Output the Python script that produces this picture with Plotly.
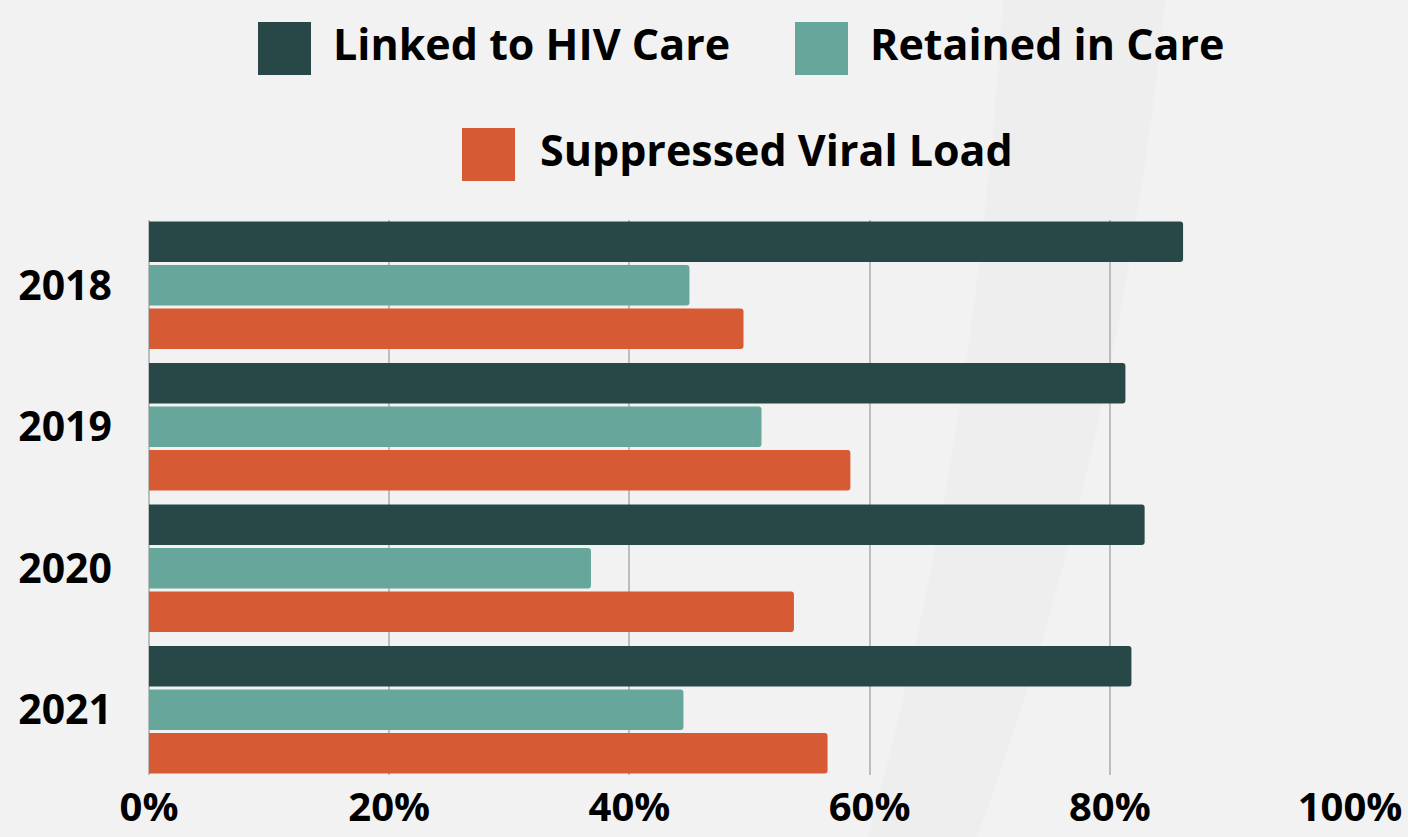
import plotly.graph_objects as go

years = ["2018", "2019", "2020", "2021"]
series_names = ["Linked to HIV Care", "Retained in Care", "Suppressed Viral Load"]
linked = [86.1, 81.3, 82.9, 81.8]
retained = [45.0, 51.0, 36.8, 44.5]
suppressed = [49.5, 58.4, 53.7, 56.5]
colors = ["#274846", "#67a69b", "#d65b35"]
x_ticks = [0, 20, 40, 60, 80, 100]
x_tick_labels = [f"{v}%" for v in x_ticks]

W, H = 1408, 837
L, R, T, B = 149, 58, 220, 62
PW, PH = W - L - R, H - T - B


def px(x):
    return (x - L) / PW


def py(y):
    return (H - B - y) / PH


FONT = "Open Sans"

fig = go.Figure()
for name, vals, col in zip(series_names, [linked, retained, suppressed], colors):
    fig.add_trace(go.Bar(
        y=years, x=vals, name=name, orientation="h",
        marker=dict(color=col, cornerradius=3, line=dict(width=0)),
        showlegend=False,
    ))

# background swoosh
band = (f"M {px(1003)},{py(0)} Q {px(975)},{py(450)} {px(868)},{py(837)} "
        f"L {px(977)},{py(837)} Q {px(1120)},{py(450)} {px(1165)},{py(0)} Z")
shapes = [dict(type="path", path=band, xref="paper", yref="paper",
               fillcolor="#ececec", opacity=0.8, line=dict(width=0), layer="below")]

annotations = []
legend_items = [
    (258, 22, 331, 44),
    (795, 22, 868, 44),
    (462, 128, 538, 150),
]
for (sx, sy, tx, ty), name, col in zip(legend_items, series_names, colors):
    shapes.append(dict(type="rect", xref="paper", yref="paper",
                       x0=px(sx), x1=px(sx + 53), y0=py(sy), y1=py(sy + 53),
                       fillcolor=col, line=dict(width=0), layer="above"))
    annotations.append(dict(text=name, xref="paper", yref="paper",
                            x=px(tx), y=py(ty), xanchor="left", yanchor="middle",
                            showarrow=False,
                            font=dict(family=FONT, size=43, color="#000", weight=700)))

fig.update_layout(
    width=W, height=H,
    margin=dict(l=L, r=R, t=T, b=B),
    paper_bgcolor="#f2f2f2",
    plot_bgcolor="rgba(0,0,0,0)",
    barmode="group",
    bargap=0.078,
    bargroupgap=0.07,
    shapes=shapes,
    annotations=annotations,
    font=dict(family=FONT, size=40, color="#000", weight=700),
    xaxis=dict(range=[0, 100], tickvals=x_ticks, ticktext=x_tick_labels,
               showgrid=True, gridcolor="#bdbdbd", gridwidth=2,
               zeroline=True, zerolinecolor="#bdbdbd", zerolinewidth=2,
               ticks="", ticklabelstandoff=5, automargin=False,
               tickfont=dict(family=FONT, size=40, color="#000", weight=700)),
    yaxis=dict(range=[3.461, -0.461], showgrid=False, ticks="",
               ticklabelstandoff=36, automargin=False,
               tickfont=dict(family=FONT, size=41, color="#000", weight=700)),
)

fig.write_html("out.html", config={"displayModeBar": False},
               post_script="document.body.style.margin='0';document.body.style.overflow='hidden';")
